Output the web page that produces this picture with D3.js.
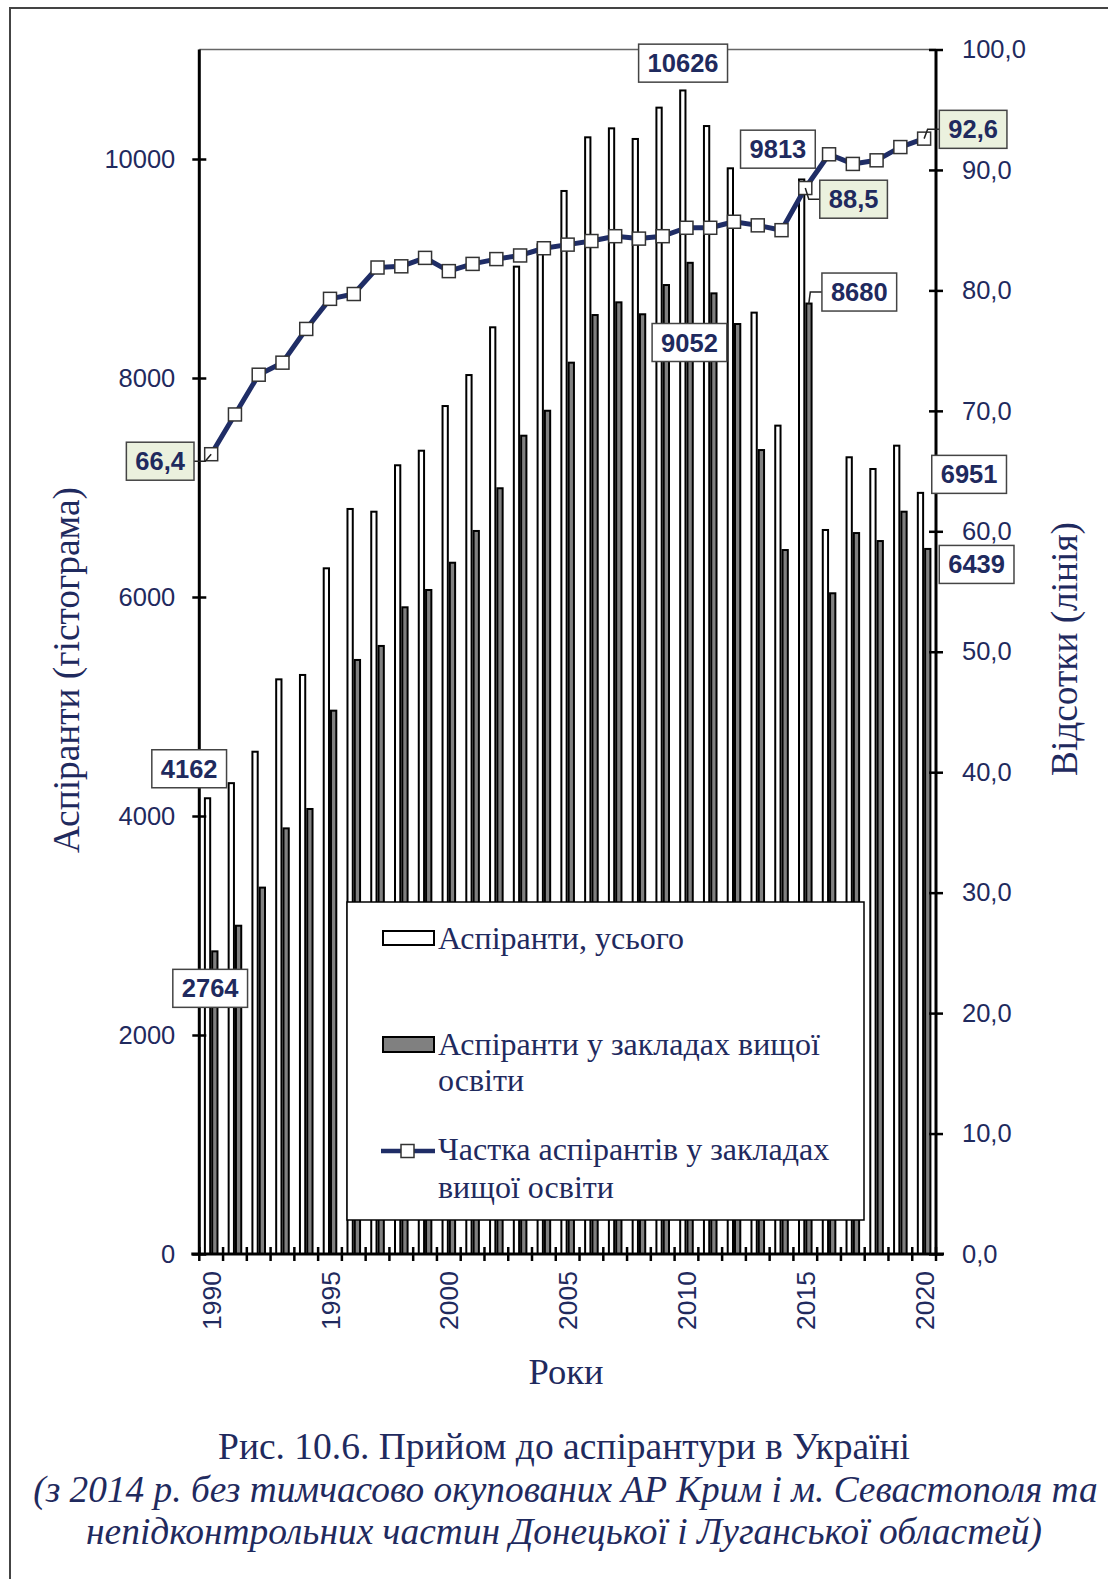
<!DOCTYPE html>
<html><head><meta charset="utf-8">
<script src="https://cdn.jsdelivr.net/npm/d3@7"></script>
<style>body{margin:0;background:#fff} svg{display:block}</style>
</head><body><svg id="c" width="1108" height="1579"></svg>
<script>
// ---------- DATA ----------
const years = [1990,1991,1992,1993,1994,1995,1996,1997,1998,1999,2000,2001,2002,2003,2004,2005,2006,2007,2008,2009,2010,2011,2012,2013,2014,2015,2016,2017,2018,2019,2020];
const totals = [4162,4300,4587,5248,5288,6262,6804,6779,7203,7336,7744,8027,8463,9017,9220,9708,10198,10280,10183,10469,10626,10301,9915,8597,7565,9813,6612,7276,7169,7382,6951];
const hei = [2764,2998,3346,3887,4064,4962,5425,5553,5906,6064,6313,6603,6993,7473,7701,8140,8575,8691,8582,8849,9052,8773,8493,7342,6429,8680,6034,6584,6511,6779,6439];
const share = [66.4,69.7,73.0,74.0,76.8,79.3,79.7,81.9,82.0,82.7,81.6,82.2,82.6,82.9,83.5,83.8,84.1,84.5,84.3,84.5,85.2,85.2,85.7,85.4,85.0,88.5,91.3,90.5,90.8,91.9,92.6];
const leftTicks = [0,2000,4000,6000,8000,10000];
const rightTicks = [0,10,20,30,40,50,60,70,80,90,100];
const yearLabels = [1990,1995,2000,2005,2010,2015,2020];
const legendLabels = [["Аспіранти, усього"],["Аспіранти у закладах вищої","освіти"],["Частка аспірантів у закладах","вищої освіти"]];
const yLeftTitle = "Аспіранти (гістограма)";
const yRightTitle = "Відсотки (лінія)";
const xTitle = "Роки";
const caption = ["Рис. 10.6. Прийом до аспірантури в Україні",
 "(з 2014 р. без тимчасово окупованих АР Крим і м. Севастополя та",
 "непідконтрольних частин Донецької і Луганської областей)"];

// ---------- LAYOUT ----------
const NAVY = '#1f2a5e', LINEC = '#1f2d66';
const SANS = "'Liberation Sans', Arial, sans-serif";
const SERIF = "'Liberation Serif', 'Times New Roman', serif";
const L = 199.3, R = 936, T = 49.5, B = 1254;
const svg = d3.select('#c');

const x = d3.scaleBand().domain(years).range([L, R]).padding(0);
const bw = x.bandwidth();
const sub = d3.scaleBand().domain(['t','h']).range([0, bw]).paddingInner(0).paddingOuter(0.63);
const yL = d3.scaleLinear().domain([0, 11000]).range([B, T]);
const yR = d3.scaleLinear().domain([0, 100]).range([B, T]);
const cx = y => x(y) + bw / 2;

// outer frame
svg.append('path').attr('d', `M10,1590 L10,8 L1120,8`).attr('fill','none').attr('stroke','#444').attr('stroke-width',2);

// plot top border
svg.append('line').attr('x1',L).attr('x2',R).attr('y1',T).attr('y2',T).attr('stroke','#666').attr('stroke-width',1.5);

// bars
const bars = svg.append('g');
bars.selectAll('rect.t').data(years).join('rect').attr('class','t')
  .attr('x', d => x(d) + sub('t') + 1).attr('width', sub.bandwidth() - 2)
  .attr('y', (d,i) => yL(totals[i])).attr('height', (d,i) => B - yL(totals[i]))
  .attr('fill','#fff').attr('stroke','#000').attr('stroke-width',2);
bars.selectAll('rect.h').data(years).join('rect').attr('class','h')
  .attr('x', d => x(d) + sub('h') + 1).attr('width', sub.bandwidth() - 2)
  .attr('y', (d,i) => yL(hei[i])).attr('height', (d,i) => B - yL(hei[i]))
  .attr('fill','#808080').attr('stroke','#000').attr('stroke-width',2);

// left axis
const gl = svg.append('g').attr('transform',`translate(${L},0)`)
  .call(d3.axisLeft(yL).tickValues(leftTicks).tickSize(7).tickPadding(17).tickFormat(d3.format('d')));
gl.select('.domain').remove();
gl.selectAll('line').attr('x1',7).attr('x2',-7).attr('stroke','#000').attr('stroke-width',2.5);
gl.selectAll('text').attr('font-family',SANS).attr('font-size',25.5).attr('fill',NAVY);
svg.append('line').attr('x1',L).attr('x2',L).attr('y1',T).attr('y2',B).attr('stroke','#000').attr('stroke-width',3);

// right axis
const gr = svg.append('g').attr('transform',`translate(${R},0)`)
  .call(d3.axisRight(yR).tickValues(rightTicks).tickSize(7).tickPadding(19).tickFormat(d => d3.format('.1f')(d).replace('.',',')));
gr.select('.domain').remove();
gr.selectAll('line').attr('x1',-7).attr('x2',7).attr('stroke','#000').attr('stroke-width',2.5);
gr.selectAll('text').attr('font-family',SANS).attr('font-size',25.5).attr('fill',NAVY);
svg.append('line').attr('x1',R).attr('x2',R).attr('y1',T).attr('y2',B).attr('stroke','#000').attr('stroke-width',3);

// bottom axis
svg.append('line').attr('x1',L-8).attr('x2',R+8).attr('y1',B).attr('y2',B).attr('stroke','#000').attr('stroke-width',3);
const bounds = years.map(d => x(d)).concat([x(years[years.length-1]) + bw]);
svg.append('g').selectAll('line').data(bounds).join('line')
  .attr('x1', d => d).attr('x2', d => d).attr('y1', B - 7).attr('y2', B + 7)
  .attr('stroke','#000').attr('stroke-width',2.5);
svg.append('g').selectAll('text').data(yearLabels).join('text')
  .attr('transform', d => `translate(${cx(d) + 9.5},${B + 17}) rotate(-90)`)
  .attr('text-anchor','end').attr('font-family',SANS).attr('font-size',26.5).attr('fill',NAVY)
  .text(d => d);

// share line
const line = d3.line().x((d,i) => cx(years[i])).y(d => yR(d));
svg.append('path').datum(share).attr('d', line).attr('fill','none').attr('stroke',LINEC).attr('stroke-width',5).attr('stroke-linejoin','round');
svg.append('g').selectAll('rect').data(share).join('rect')
  .attr('x', (d,i) => cx(years[i]) - 6.5).attr('y', d => yR(d) - 6.5).attr('width',13).attr('height',13)
  .attr('fill','#fff').attr('stroke','#333').attr('stroke-width',1.5);

// legend
const lg = svg.append('g');
lg.append('rect').attr('x',347).attr('y',902).attr('width',517).attr('height',318).attr('fill','#fff').attr('stroke','#000').attr('stroke-width',1.5);
lg.append('rect').attr('x',383).attr('y',931).attr('width',51).attr('height',14).attr('fill','#fff').attr('stroke','#000').attr('stroke-width',2);
lg.append('rect').attr('x',383).attr('y',1037).attr('width',51).attr('height',15).attr('fill','#808080').attr('stroke','#000').attr('stroke-width',2);
lg.append('line').attr('x1',381).attr('x2',435).attr('y1',1151).attr('y2',1151).attr('stroke',LINEC).attr('stroke-width',4.5);
lg.append('rect').attr('x',401).attr('y',1144.5).attr('width',13).attr('height',13).attr('fill','#fff').attr('stroke','#333').attr('stroke-width',1.5);
const legBase = [[949],[1055,1091],[1160,1198]];
legendLabels.forEach((lines, k) => lines.forEach((t, j) => {
  lg.append('text').attr('x',438).attr('y',legBase[k][j]).attr('font-family',SERIF).attr('font-size',32).attr('fill',NAVY).text(t);
}));

// data labels (boxes)
const ann = svg.append('g');
function box(txt, bx, by, fill, leader) {
  const t = ann.append('text').attr('font-family',SANS).attr('font-weight','bold').attr('font-size',25.5).attr('fill',NAVY)
    .attr('text-anchor','middle').attr('x',bx).attr('y',by + 9).text(txt);
  const w = t.node().getComputedTextLength() + 18, h = 38;
  if (leader) ann.insert('path','text').attr('d', d3.line()(leader)).attr('fill','none').attr('stroke','#222').attr('stroke-width',1.5);
  ann.insert('rect','text').attr('x',bx - w/2).attr('y',by - h/2).attr('width',w).attr('height',h)
    .attr('fill',fill).attr('stroke','#444').attr('stroke-width',1.5);
}
const iy = y => years.indexOf(y);
const fmtP = v => d3.format('.1f')(v).replace('.',',');
// totals
box(totals[iy(2010)], cx(2010) - 3.4, yL(totals[iy(2010)]) - 27.3, '#fff');
box(totals[iy(2015)], cx(2015) - 27.4, yL(totals[iy(2015)]) - 30.3, '#fff');
box(totals[iy(1990)], cx(1990) - 22, yL(totals[iy(1990)]) - 29.5, '#fff');
box(totals[iy(2020)], cx(2020) + 45, yL(totals[iy(2020)]) - 18.5, '#fff');
// hei
box(hei[iy(2010)], cx(2010) + 3, yL(hei[iy(2010)]) + 79.7, '#fff');
{ const ax = cx(2015) + 3.5, ay = yL(hei[iy(2015)]), bx = cx(2015) + 54, by = ay - 11.5;
  box(hei[iy(2015)], bx, by, '#fff', [[ax, ay], [ax + 1.5, by], [bx - 30, by]]); }
box(hei[iy(1990)], cx(1990) - 1, yL(hei[iy(1990)]) + 37, '#fff');
box(hei[iy(2020)], cx(2020) + 52.5, yL(hei[iy(2020)]) + 15.5, '#fff');
// share
{ const ax = cx(1990), ay = yR(share[0]), bx = ax - 51, by = ay + 7;
  box(fmtP(share[0]), bx, by, '#ebf1de', [[ax, ay], [ax - 6, by], [bx + 30, by]]); }
{ const ax = cx(2015), ay = yR(share[iy(2015)]), bx = ax + 48.3, by = ay + 11.2;
  box(fmtP(share[iy(2015)]), bx, by, '#ebf1de', [[ax, ay], [ax + 3.5, by], [bx - 30, by]]); }
{ const ax = cx(2020), ay = yR(share[iy(2020)]), bx = ax + 49, by = ay - 9.3;
  box(fmtP(share[iy(2020)]), bx, by, '#ebf1de', [[ax, ay], [ax + 3.5, by], [bx - 30, by]]); }

// titles
function fitText(sel, target) {
  const len = sel.node().getComputedTextLength();
  const fs = +sel.attr('font-size');
  sel.attr('font-size', fs * target / len);
  return fs * target / len;
}
const lt = svg.append('text').attr('font-family',SERIF).attr('font-size',32).attr('fill',NAVY).attr('text-anchor','middle')
  .attr('transform','translate(79,670) rotate(-90)').text(yLeftTitle);
fitText(lt, 366);
const rt = svg.append('text').attr('font-family',SERIF).attr('font-size',32).attr('fill',NAVY).attr('text-anchor','middle')
  .attr('transform','translate(1077,649) rotate(-90)').text(yRightTitle);
fitText(rt, 254);
const xt = svg.append('text').attr('font-family',SERIF).attr('font-size',32).attr('fill',NAVY).attr('text-anchor','middle')
  .attr('x',566).attr('y',1384).text(xTitle);
fitText(xt, 75);
const c1 = svg.append('text').attr('font-family',SERIF).attr('font-size',32).attr('fill',NAVY).attr('text-anchor','middle')
  .attr('x',564).attr('y',1459).text(caption[0]);
fitText(c1, 692);
const c2 = svg.append('text').attr('font-family',SERIF).attr('font-style','italic').attr('font-size',32).attr('fill',NAVY).attr('text-anchor','middle')
  .attr('x',565.5).attr('y',1502).text(caption[1]);
fitText(c2, 1065);
const c3 = svg.append('text').attr('font-family',SERIF).attr('font-style','italic').attr('font-size',32).attr('fill',NAVY).attr('text-anchor','middle')
  .attr('x',564).attr('y',1544).text(caption[2]);
fitText(c3, 956);
</script>
</body></html>
